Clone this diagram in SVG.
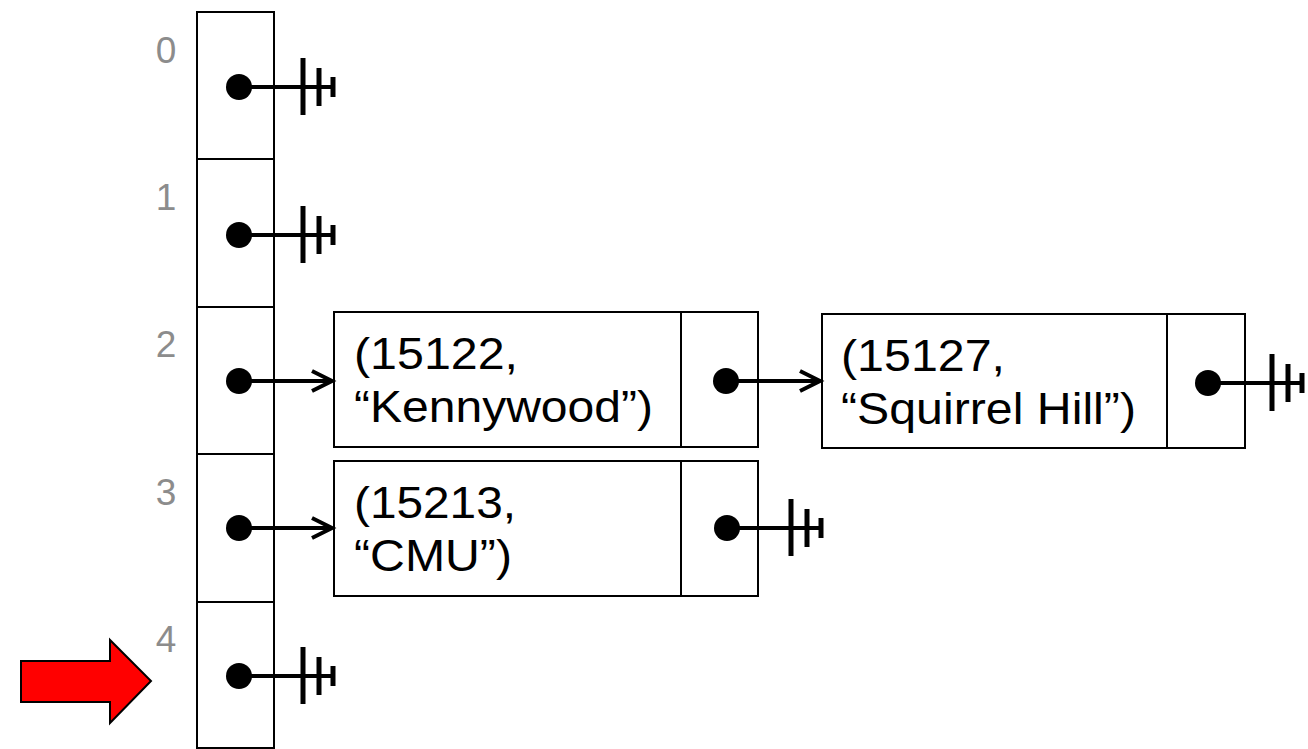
<svg xmlns="http://www.w3.org/2000/svg" xmlns:xlink="http://www.w3.org/1999/xlink" width="1308" height="749" viewBox="0 0 1308 749">
<style>
.box{fill:#fff;stroke:#000;stroke-width:2}
.idx{font-family:"Liberation Sans",Arial,sans-serif;font-size:37px;fill:#8c8c8c;text-anchor:middle}
.lbl{font-family:"Liberation Sans",Arial,sans-serif;font-size:44px;fill:#000}
.ptr{stroke:#000;stroke-width:4;fill:none}
.bar{stroke:#000;stroke-width:5;fill:none}
.dot{fill:#000}
.head{stroke:#000;stroke-width:4;fill:none;stroke-linejoin:miter}
</style>
<defs>
<g id="ground">
<circle class="dot" cx="0" cy="0" r="13"/>
<line class="ptr" x1="0" y1="0" x2="94" y2="0"/>
<line class="bar" x1="64" y1="-29" x2="64" y2="28"/>
<line class="bar" x1="80" y1="-19" x2="80" y2="19"/>
<line class="bar" x1="94" y1="-10" x2="94" y2="10"/>
</g>
</defs>
<g id="array">
<rect class="box" x="197" y="12" width="77" height="147"/>
<rect class="box" x="197" y="159" width="77" height="148"/>
<rect class="box" x="197" y="307" width="77" height="147"/>
<rect class="box" x="197" y="454" width="77" height="148"/>
<rect class="box" x="197" y="602" width="77" height="146"/>
<text class="idx" x="166" y="63">0</text>
<text class="idx" x="166" y="210">1</text>
<text class="idx" x="166" y="357">2</text>
<text class="idx" x="166" y="505">3</text>
<text class="idx" x="166" y="652">4</text>
</g>
<g id="node-kennywood">
<rect class="box" x="334" y="312" width="347" height="135"/>
<rect class="box" x="681" y="312" width="77" height="135"/>
<text class="lbl" x="354" y="369" textLength="164" lengthAdjust="spacingAndGlyphs">(15122,</text>
<text class="lbl" x="354" y="422" textLength="299" lengthAdjust="spacingAndGlyphs">“Kennywood”)</text>
</g>
<g id="node-squirrel">
<rect class="box" x="822" y="314" width="345" height="134"/>
<rect class="box" x="1167" y="314" width="78" height="134"/>
<text class="lbl" x="841" y="371" textLength="164" lengthAdjust="spacingAndGlyphs">(15127,</text>
<text class="lbl" x="841" y="424" textLength="295" lengthAdjust="spacingAndGlyphs">“Squirrel Hill”)</text>
</g>
<g id="node-cmu">
<rect class="box" x="334" y="461" width="347" height="135"/>
<rect class="box" x="681" y="461" width="77" height="135"/>
<text class="lbl" x="354" y="518" textLength="162" lengthAdjust="spacingAndGlyphs">(15213,</text>
<text class="lbl" x="354" y="571" textLength="158" lengthAdjust="spacingAndGlyphs">“CMU”)</text>
</g>
<g id="pointer-marker">
<polygon points="21,661 110,661 110,640 151,681 110,723 110,702 21,702" fill="#ff0000" stroke="#000" stroke-width="2"/>
</g>
<g id="connectors">
<use xlink:href="#ground" x="239" y="87"/>
<use xlink:href="#ground" x="239" y="235"/>
<use xlink:href="#ground" x="239" y="676"/>
<use xlink:href="#ground" x="727" y="528"/>
<use xlink:href="#ground" x="1208" y="383"/>
<circle class="dot" cx="239" cy="381" r="13"/>
<line class="ptr" x1="239" y1="381" x2="331" y2="381"/>
<polyline class="head" points="312,371 332,381 312,391"/>
<circle class="dot" cx="239" cy="528" r="13"/>
<line class="ptr" x1="239" y1="528" x2="331" y2="528"/>
<polyline class="head" points="312,518 332,528 312,538"/>
<circle class="dot" cx="726" cy="381" r="13"/>
<line class="ptr" x1="726" y1="381" x2="819" y2="381"/>
<polyline class="head" points="800,371 820,381 800,391"/>
</g>
</svg>
